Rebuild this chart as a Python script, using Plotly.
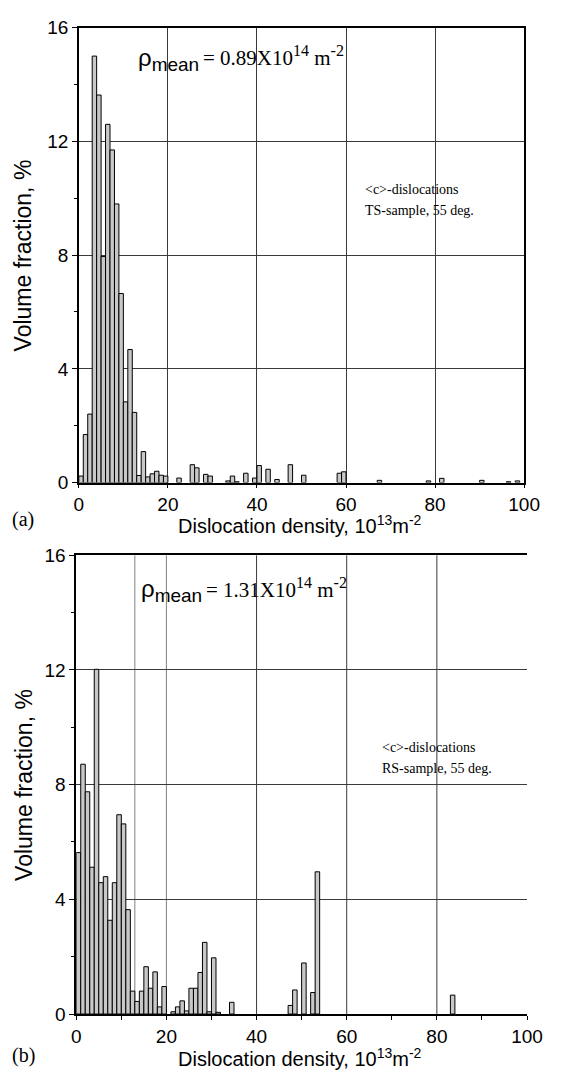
import plotly.graph_objects as go

W, H = 562, 1078

# ---- data: panel (a) TS-sample ----
a_density = [0.5, 1.5, 2.5, 3.5, 4.5, 5.5, 6.5, 7.5, 8.5, 9.5, 10.5, 11.5, 12.5, 13.5,
             14.5, 15.5, 16.5, 17.5, 18.5, 19.5, 22.5, 25.5, 26.5, 28.5, 29.5, 33.5,
             34.5, 35.5, 37.5, 39.5, 40.5, 42.5, 44.5, 47.5, 50.5, 58.5, 59.5, 67.5,
             78.5, 81.5, 90.5, 96.5, 98.5]
a_fraction = [0.23, 1.69, 2.41, 15.0, 13.63, 7.95, 12.6, 11.7, 9.8, 6.65, 2.84, 4.68, 2.47, 0.25,
              1.09, 0.2, 0.31, 0.4, 0.26, 0.23, 0.16, 0.63, 0.52, 0.29, 0.23, 0.06,
              0.23, 0.03, 0.33, 0.16, 0.6, 0.47, 0.11, 0.63, 0.26, 0.33, 0.38, 0.08,
              0.06, 0.15, 0.08, 0.03, 0.06]

# ---- data: panel (b) RS-sample ----
b_density = [0.5, 1.5, 2.5, 3.5, 4.5, 5.5, 6.5, 7.5, 8.5, 9.5, 10.5, 11.5, 12.5, 13.5,
             14.5, 15.5, 16.5, 17.5, 18.5, 19.5, 21.5, 22.5, 23.5, 24.5, 25.5, 26.5,
             27.5, 28.5, 29.5, 30.5, 31.5, 34.5, 47.5, 48.5, 50.5, 52.5, 53.5, 83.5]
b_fraction = [5.63, 8.71, 7.75, 5.12, 12.02, 4.58, 4.79, 3.27, 4.58, 6.95, 6.63, 3.64, 0.80, 0.44,
              0.80, 1.65, 0.90, 1.47, 0.25, 0.96, 0.08, 0.25, 0.46, 0.11, 0.90, 0.90,
              1.45, 2.50, 0.08, 1.96, 0.06, 0.41, 0.30, 0.84, 1.78, 0.75, 4.96, 0.66]

x_ticks = [0, 20, 40, 60, 80, 100]
y_ticks = [0, 4, 8, 12, 16]
b_grid_x = [13, 20, 40, 60, 80]

BAR_FILL = "#c8c8c8"
GRID = "#3a3a3a"
SANS = "Liberation Sans, Arial, sans-serif"
SERIF = "Liberation Serif, Times New Roman, serif"


def px(xp):
    return xp / W


def py(yp):
    return 1 - yp / H


fig = go.Figure()
fig.add_trace(go.Bar(x=a_density, y=a_fraction, width=1, xaxis="x", yaxis="y",
                     marker=dict(color=BAR_FILL, line=dict(color="black", width=1))))
fig.add_trace(go.Bar(x=b_density, y=b_fraction, width=1, xaxis="x2", yaxis="y2",
                     marker=dict(color=BAR_FILL, line=dict(color="black", width=1))))

tick_font = dict(family=SANS, size=19, color="black")
common_x = dict(range=[0, 100], tickvals=x_ticks, gridcolor=GRID, gridwidth=1,
                showline=True, linecolor="black", linewidth=1.5, ticks="outside", ticklen=4,
                tickcolor="black", zeroline=False, tickfont=tick_font)
common_y = dict(range=[0, 16], tickvals=y_ticks, showgrid=True, gridcolor=GRID, gridwidth=1,
                showline=True, linecolor="black", linewidth=1.5, ticks="outside", ticklen=5,
                tickcolor="black", zeroline=False,
                minor=dict(tickvals=[2, 6, 10, 14], ticks="outside", ticklen=3,
                           tickcolor="black", showgrid=False),
                tickfont=tick_font)

fig.update_layout(
    width=W, height=H,
    margin=dict(l=0, r=0, t=0, b=0),
    paper_bgcolor="white", plot_bgcolor="white",
    showlegend=False,
    xaxis=dict(domain=[px(76.7), px(539.3)], anchor="y", mirror=True, showgrid=True, **common_x),
    yaxis=dict(domain=[py(482), py(18)], anchor="x", mirror=True, **common_y),
    xaxis2=dict(domain=[px(74), px(542.3)], anchor="y2", mirror=True, showgrid=False,
                minor=dict(tickvals=[10, 30, 50, 70, 90], ticks="outside",
                           ticklen=4, tickcolor="black", showgrid=False),
                **common_x),
    yaxis2=dict(domain=[py(1024), py(556)], anchor="x2", **common_y),
)

# vertical grid lines of panel (b) (no right frame there)
for gx in b_grid_x:
    fig.add_shape(type="line", xref="x2", yref="y2", x0=gx, x1=gx, y0=0, y1=16,
                  line=dict(color="#808080" if gx in (13, 20) else GRID, width=1), layer="below")

ann = []
# axis titles
for yc in (525, 1068):
    ann.append(dict(text="Dislocation density, 10<sup>13</sup>m<sup>-2</sup>", x=px(306), y=py(yc),
                    xref="paper", yref="paper", xanchor="center", yanchor="middle",
                    showarrow=False, font=dict(family=SANS, size=20, color="black")))
for yc in (250, 790):
    ann.append(dict(text="Volume fraction, %", x=px(19), y=py(yc), xref="paper", yref="paper",
                    xanchor="center", yanchor="middle", textangle=-90, showarrow=False,
                    font=dict(family=SANS, size=23, color="black")))
# panel labels
ann.append(dict(text="(a)", x=px(5), y=py(520), xref="paper", yref="paper", xanchor="left",
                yanchor="middle", showarrow=False, font=dict(family=SERIF, size=20, color="black")))
ann.append(dict(text="(b)", x=px(5), y=py(1066), xref="paper", yref="paper", xanchor="left",
                yanchor="middle", showarrow=False, font=dict(family=SERIF, size=20, color="black")))
# rho mean
for (xr, yr, xt, yt, val) in ((136, 50, 204, 47, "0.89"), (139, 592, 207, 589, "1.31")):
    ann.append(dict(text='ρ<sub><span style="font-size:19px">mean</span></sub>', x=px(xr), y=py(yr),
                    xref="paper", yref="paper",
                    xanchor="left", yanchor="middle", showarrow=False,
                    font=dict(family=SANS, size=24, color="black")))
    ann.append(dict(text="= " + val + 'X10<sup><span style="font-size:16px">14</span></sup> m'
                    '<sup><span style="font-size:16px">-2</span></sup>',
                    x=px(xt), y=py(yt),
                    xref="paper", yref="paper", xanchor="left", yanchor="middle",
                    showarrow=False, font=dict(family=SERIF, size=21, color="black")))
# sample labels
for (xr, y1, y2, s) in ((372, 183, 204, "TS-sample, 55 deg."), (390, 752, 774, "RS-sample, 55 deg.")):
    ann.append(dict(text="&lt;c&gt;-dislocations", x=px(xr), y=py(y1), xref="paper", yref="paper",
                    xanchor="left", yanchor="middle", showarrow=False,
                    font=dict(family=SERIF, size=14, color="black")))
    ann.append(dict(text=s, x=px(xr), y=py(y2), xref="paper", yref="paper",
                    xanchor="left", yanchor="middle", showarrow=False,
                    font=dict(family=SERIF, size=14, color="black")))
fig.update_layout(annotations=ann)

fig.write_html("out.html")
